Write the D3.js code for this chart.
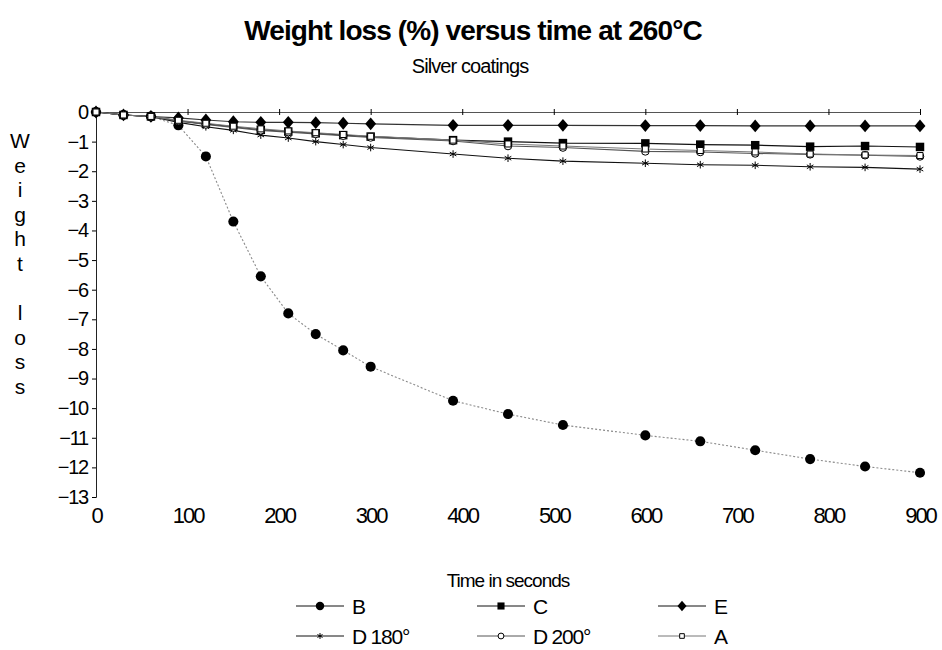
<!DOCTYPE html>
<html lang="en">
<head>
  <meta charset="UTF-8">
  <title>Weight loss versus time</title>
  <script src="https://cdn.jsdelivr.net/npm/d3@7"></script>
  <style>
    body { margin: 0; background: white; }
    svg text { font-family: "Liberation Sans", Arial, sans-serif; fill: black; }
    .yax .tick text { font-size: 20px; letter-spacing: -1.2px; }
    .xax .tick text { font-size: 22px; letter-spacing: -2px; }
  </style>
</head>
<body>
  <div id="chart"></div>
  <script>
    const times = [0, 30, 60, 90, 120, 150, 180, 210, 240, 270, 300, 390, 450, 510, 600, 660, 720, 780, 840, 900]
    const seriesNames = ['B', 'C', 'E', 'D 180°', 'D 200°', 'A']
    const valuesB = [0, -0.1, -0.15, -0.45, -1.5, -3.7, -5.55, -6.8, -7.5, -8.05, -8.6, -9.75, -10.2, -10.57, -10.92, -11.12, -11.42, -11.72, -11.97, -12.18]
    const valuesC = [0, -0.1, -0.15, -0.3, -0.4, -0.5, -0.6, -0.66, -0.72, -0.78, -0.83, -0.95, -1.0, -1.05, -1.06, -1.1, -1.12, -1.17, -1.15, -1.18]
    const valuesE = [0, -0.1, -0.15, -0.2, -0.27, -0.33, -0.35, -0.35, -0.36, -0.38, -0.4, -0.45, -0.45, -0.45, -0.46, -0.46, -0.47, -0.47, -0.47, -0.47]
    const valuesD180 = [0, -0.1, -0.15, -0.35, -0.5, -0.62, -0.78, -0.88, -1.0, -1.1, -1.2, -1.42, -1.56, -1.66, -1.73, -1.78, -1.8, -1.85, -1.87, -1.93]
    const valuesD200 = [0, -0.1, -0.15, -0.3, -0.42, -0.52, -0.62, -0.68, -0.74, -0.8, -0.86, -0.98, -1.15, -1.2, -1.33, -1.35, -1.4, -1.43, -1.46, -1.5]
    const valuesA = [0, -0.1, -0.15, -0.28, -0.38, -0.48, -0.57, -0.64, -0.7, -0.76, -0.82, -0.95, -1.08, -1.15, -1.25, -1.3, -1.35, -1.42, -1.45, -1.47]
    const xTicks = [0, 100, 200, 300, 400, 500, 600, 700, 800, 900]
    const yTicks = [0, -1, -2, -3, -4, -5, -6, -7, -8, -9, -10, -11, -12, -13]
    const yLabelLetters = ['W', 'e', 'i', 'g', 'h', 't', '', 'l', 'o', 's', 's']

    const width = 942
    const height = 650
    const plotLeft = 96, plotRight = 920, plotTop = 112, plotBottom = 497

    const xScale = d3.scaleLinear().domain([0, 900]).range([plotLeft, plotRight])
    const yScale = d3.scaleLinear().domain([-13, 0]).range([plotBottom, plotTop])

    const svg = d3.select('#chart').append('svg')
      .attr('width', width)
      .attr('height', height)

    svg.append('text')
      .attr('x', 473).attr('y', 40)
      .attr('text-anchor', 'middle')
      .style('font-size', '28px').style('font-weight', 'bold').style('letter-spacing', '-0.9px')
      .text('Weight loss (%) versus time at 260°C')

    svg.append('text')
      .attr('x', 470).attr('y', 73)
      .attr('text-anchor', 'middle')
      .style('font-size', '20px').style('letter-spacing', '-0.9px')
      .text('Silver coatings')

    // y axis
    const yAxis = d3.axisLeft(yScale).tickValues(yTicks).tickSize(4).tickPadding(4)
    const gy = svg.append('g').attr('class', 'yax').attr('transform', `translate(${plotLeft},0)`).call(yAxis)
    gy.select('.domain').attr('stroke', '#222')

    // axis line at y = 0 with crossing ticks
    const gx0 = svg.append('g').attr('transform', `translate(0,${yScale(0)})`)
      .call(d3.axisBottom(xScale).tickValues(xTicks).tickSizeInner(3).tickSizeOuter(0).tickFormat(''))
    gx0.selectAll('.tick line').attr('y1', -3)
    gx0.select('.domain').attr('stroke', '#555')

    // x labels at bottom
    const gxl = svg.append('g').attr('class', 'xax').attr('transform', `translate(0,${plotBottom})`)
      .call(d3.axisBottom(xScale).tickValues(xTicks).tickSize(0).tickPadding(10))
    gxl.select('.domain').remove()

    svg.append('text')
      .attr('x', 508).attr('y', 587)
      .attr('text-anchor', 'middle')
      .style('font-size', '19px').style('letter-spacing', '-1px')
      .text('Time in seconds')

    svg.append('g').selectAll('text')
      .data(yLabelLetters)
      .join('text')
      .attr('x', 20)
      .attr('y', (d, i) => 148 + i * 24.6)
      .attr('text-anchor', 'middle')
      .style('font-size', '21px')
      .text(d => d)

    const diamond = {
      draw(ctx, size) {
        const h = Math.sqrt(size) * 0.8, w = Math.sqrt(size) * 0.68
        ctx.moveTo(0, -h); ctx.lineTo(w, 0); ctx.lineTo(0, h); ctx.lineTo(-w, 0); ctx.closePath()
      }
    }

    const series = [
      { name: seriesNames[0], values: valuesB, line: '#8a8a8a', dash: '2,2', symbol: d3.symbolCircle, size: 80, fill: 'black', stroke: 'none' },
      { name: seriesNames[1], values: valuesC, line: '#111', dash: null, symbol: d3.symbolSquare, size: 72, fill: 'black', stroke: 'none' },
      { name: seriesNames[2], values: valuesE, line: '#333', dash: null, symbol: diamond, size: 64, fill: 'black', stroke: 'none' },
      { name: seriesNames[3], values: valuesD180, line: '#111', dash: null, symbol: d3.symbolAsterisk, size: 40, fill: 'none', stroke: 'black' },
      { name: seriesNames[4], values: valuesD200, line: '#555', dash: null, symbol: d3.symbolCircle, size: 45, fill: 'white', stroke: 'black' },
      { name: seriesNames[5], values: valuesA, line: '#777', dash: null, symbol: d3.symbolSquare, size: 36, fill: 'white', stroke: 'black' }
    ]

    const line = d3.line().x((d, i) => xScale(times[i])).y(d => yScale(d))

    series.forEach(s => {
      svg.append('path')
        .datum(s.values)
        .attr('fill', 'none')
        .attr('stroke', s.line)
        .attr('stroke-width', 1.1)
        .attr('stroke-dasharray', s.dash)
        .attr('d', line)
    })

    series.forEach(s => {
      svg.append('g').selectAll('path')
        .data(s.values)
        .join('path')
        .attr('transform', (d, i) => `translate(${xScale(times[i])},${yScale(d)})`)
        .attr('d', d3.symbol().type(s.symbol).size(s.size))
        .attr('fill', s.fill)
        .attr('stroke', s.stroke)
        .attr('stroke-width', 1)
    })

    // legend
    const legendX = [296, 477, 658]
    const legendY = [606, 636]
    series.forEach((s, i) => {
      const x = legendX[i % 3], y = legendY[Math.floor(i / 3)]
      const g = svg.append('g').attr('transform', `translate(${x},${y})`)
      g.append('line').attr('x1', 0).attr('x2', 48).attr('y1', 0).attr('y2', 0)
        .attr('stroke', i < 4 ? '#111' : s.line)
      g.append('path')
        .attr('transform', 'translate(24,0)')
        .attr('d', d3.symbol().type(s.symbol).size(i < 3 ? s.size * 0.7 : s.size * 0.6))
        .attr('fill', s.fill).attr('stroke', s.stroke)
      g.append('text')
        .attr('x', 56).attr('y', 8)
        .style('font-size', '21px').style('letter-spacing', '-1.2px')
        .text(s.name)
    })
  </script>
</body>
</html>
